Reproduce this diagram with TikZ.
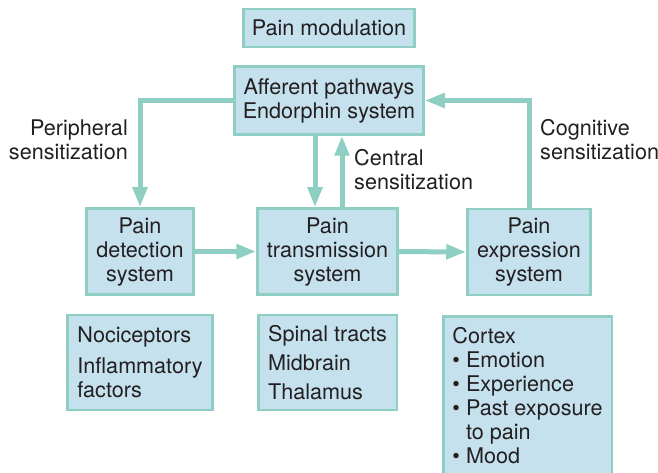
\documentclass[tikz,border=0pt]{standalone}
\usepackage{fontspec}
\setmainfont{TeX Gyre Heros}
\usetikzlibrary{arrows.meta,positioning}
\definecolor{boxfill}{RGB}{197,225,238}
\definecolor{boxline}{RGB}{142,206,195}
\definecolor{inkgray}{RGB}{35,31,32}
\tikzset{
	pain diagram/.style={
		x=1pt, y=-1pt,
		font=\fontsize{21.6}{24}\selectfont,
		text=inkgray,
		ar/.style={line width=5pt, draw=boxline, -{Triangle[length=20pt,width=14pt]}},
		lbl/.style={inner sep=0pt},
		},
	pbox/.style 2 args={draw=boxline, fill=boxfill, line width=2.5pt,
		minimum width=#1, minimum height=#2, inner sep=0pt, align=center},
	plist/.style={align=left},
}

\begin{document}
\begin{tikzpicture}[pain diagram]
   \clip (0,0) rectangle (658,473);
   \node[pbox={171}{38}] (P0) at (329,28) {Pain modulation};
   \node[pbox={189}{68}] (P1) at (329,100.5) {Afferent pathways\\Endorphin system};
   \node[pbox={107}{86}] (S1) at (140,251.5) {Pain\\detection\\system};
   \node[pbox={140}{86}] (S2) at (327.5,251.5) {Pain\\transmission\\system};
   \node[pbox={123}{86}] (S3) at (529,252) {Pain\\expression\\system};
   \node[pbox={145}{95}, plist, below=18pt of S1] (L1) {Nociceptors\\[6.5pt]Inflammatory\\factors};
   \node[pbox={138.5}{95}, plist, below=18pt of S2] (L2) {Spinal tracts\\[5pt]Midbrain\\[5pt]Thalamus};
   \node[pbox={168.5}{158}, plist, below=19pt of S3, xshift=-1.5pt] (L3)
      {Cortex\\\textbullet\ Emotion\\\textbullet\ Experience\\\textbullet\ Past exposure\\\phantom{\textbullet\ }to pain\\\textbullet\ Mood};
   \draw[ar] (P1.west) -| (S1.north);
   \draw[ar] ([xshift=-14pt]P1.south) -- ([xshift=-14pt]P1.south |- S2.north);
   \draw[ar] ([xshift=13pt]P1.south |- S2.north) -- ([xshift=13pt]P1.south);
   \draw[ar] (S3.north) |- (P1.east);
   \draw[ar] (S1) -- (S2);
   \draw[ar] (S2) -- (S3);
   \node[lbl, align=right, anchor=east] (T1) at (128,140) {Peripheral\\sensitization};
   \node[lbl, align=left, anchor=west] (T2) at (354,170) {Central\\sensitization};
   \node[lbl, align=left, anchor=west] (T3) at (540,140) {Cognitive\\sensitization};
\end{tikzpicture}
\end{document}
